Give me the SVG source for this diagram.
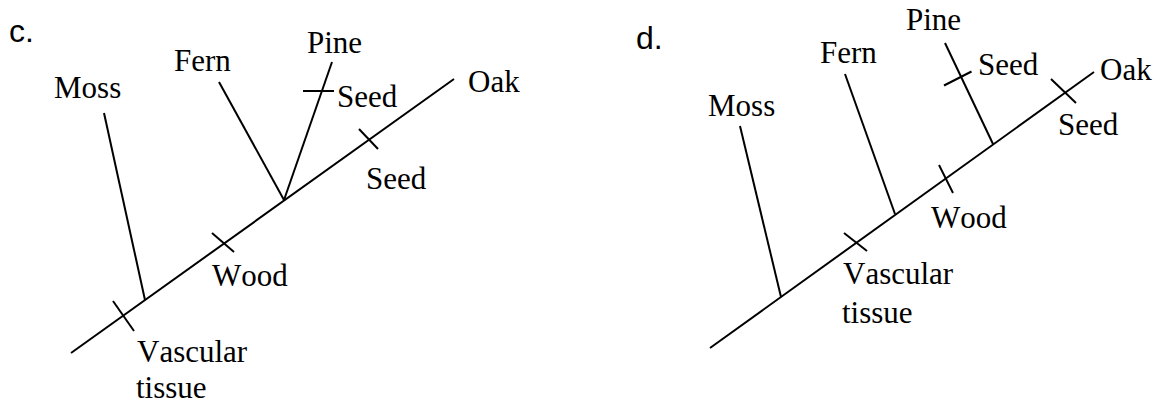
<svg xmlns="http://www.w3.org/2000/svg" width="1159" height="407" viewBox="0 0 1159 407">
<style>
.ln{stroke:#000;stroke-width:2;fill:none;stroke-linecap:butt}
.t{font-family:"Liberation Serif","Times New Roman",serif;font-size:31px;fill:#000;font-kerning:none}
.h{font-family:"Liberation Sans",Arial,sans-serif;font-size:32px;fill:#000}
</style>
<rect width="1159" height="407" fill="#fff"/>
<g id="tree-c">
  <text class="h" x="9" y="42">c.</text>
  <g id="c-connectors">
    <line class="ln" x1="71" y1="353" x2="454" y2="79"/>
    <line class="ln" x1="104" y1="113" x2="145" y2="300"/>
    <line class="ln" x1="219" y1="82" x2="284" y2="200"/>
    <line class="ln" x1="332" y1="62" x2="284" y2="200"/>
    <line class="ln" x1="303" y1="91" x2="334" y2="91"/>
    <line class="ln" x1="359" y1="129" x2="378" y2="149"/>
    <line class="ln" x1="212" y1="233" x2="234" y2="252"/>
    <line class="ln" x1="113" y1="301" x2="134" y2="331"/>
  </g>
  <g id="c-moss"><text class="t" x="54" y="98">Moss</text></g>
  <g id="c-fern"><text class="t" x="174" y="71">Fern</text></g>
  <g id="c-pine"><text class="t" x="307" y="53">Pine</text></g>
  <g id="c-oak"><text class="t" x="468" y="92">Oak</text></g>
  <g id="c-seed1"><text class="t" x="337" y="107">Seed</text></g>
  <g id="c-seed2"><text class="t" x="366" y="189">Seed</text></g>
  <g id="c-wood"><text class="t" x="212" y="286">Wood</text></g>
  <g id="c-vasc"><text class="t" x="137" y="362">Vascular</text><text class="t" x="136" y="398">tissue</text></g>
</g>
<g id="tree-d">
  <text class="h" x="636" y="49">d.</text>
  <g id="d-connectors">
    <line class="ln" x1="710" y1="348" x2="1094" y2="72"/>
    <line class="ln" x1="740" y1="126" x2="781" y2="297"/>
    <line class="ln" x1="845" y1="74" x2="895" y2="214"/>
    <line class="ln" x1="945" y1="43" x2="993" y2="144"/>
    <line class="ln" x1="944" y1="85.5" x2="971.5" y2="71.5"/>
    <line class="ln" x1="1051" y1="79" x2="1076" y2="103"/>
    <line class="ln" x1="939" y1="165" x2="953" y2="193"/>
    <line class="ln" x1="844" y1="233" x2="867" y2="251"/>
  </g>
  <g id="d-moss"><text class="t" x="708" y="116">Moss</text></g>
  <g id="d-fern"><text class="t" x="820" y="63">Fern</text></g>
  <g id="d-pine"><text class="t" x="906" y="30">Pine</text></g>
  <g id="d-oak"><text class="t" x="1100" y="80">Oak</text></g>
  <g id="d-seed1"><text class="t" x="978" y="75">Seed</text></g>
  <g id="d-seed2"><text class="t" x="1058" y="135">Seed</text></g>
  <g id="d-wood"><text class="t" x="931" y="228">Wood</text></g>
  <g id="d-vasc"><text class="t" x="843" y="284">Vascular</text><text class="t" x="842" y="323">tissue</text></g>
</g>
</svg>
